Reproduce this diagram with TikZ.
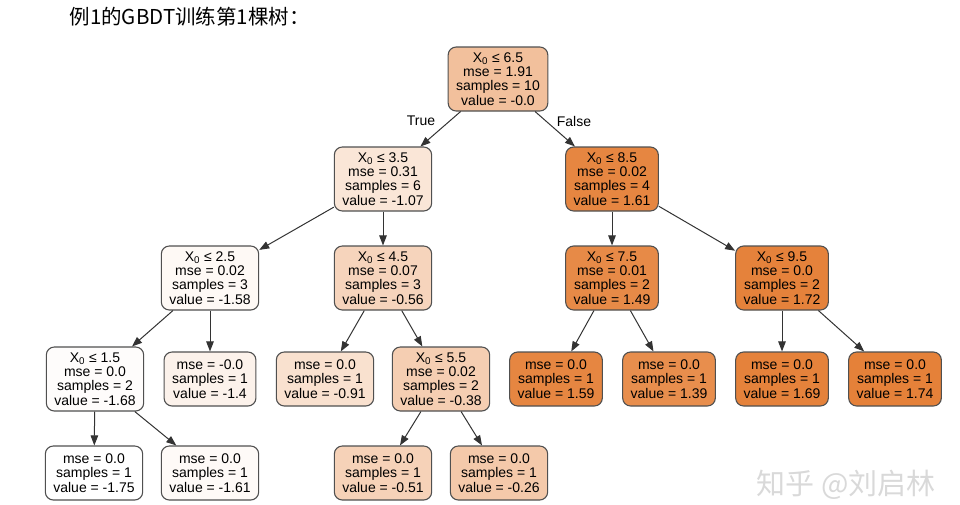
\documentclass[tikz,border=0pt]{standalone}
\usepackage{fontspec}
\setmainfont{Liberation Sans}
\newfontfamily\cjk{Noto Sans CJK SC}
\usetikzlibrary{arrows.meta}
\definecolor{gbdt}{RGB}{229,129,57}
\definecolor{boxline}{RGB}{80,80,80}
\newcommand{\Xle}[1]{X\textsubscript{0} ≤ #1}

\begin{document}
\begin{tikzpicture}[x=1pt, y=-1pt, every node/.style={font=\fontsize{14}{14.3}\selectfont},
	split/.style={draw=boxline, line width=1.1pt, rounded corners=8pt, fill=gbdt!#1!white, align=center, inner xsep=8pt, inner ysep=0pt, minimum height=64pt},
	leaf/.style={split=#1, minimum height=54pt},
	edge/.style={draw=black!80, line width=1pt, -{Triangle[length=10pt,width=7.5pt]}}]
\useasboundingbox (0,0) rectangle (960,504);
\node[anchor=west, font=\cjk\fontsize{20.5}{22}\selectfont] (title) at (66,17) {例1的GBDT训练第1棵树：};
\node[split=50] (n0) at (498,79) {\Xle{6.5}\\mse = 1.91\\samples = 10\\value = -0.0};
\node[split=20] (n1) at (383,179) {\Xle{3.5}\\mse = 0.31\\samples = 6\\value = -1.07};
\node[split=96] (n2) at (612,179) {\Xle{8.5}\\mse = 0.02\\samples = 4\\value = 1.61};
\node[split=5] (n3) at (210,278) {\Xle{2.5}\\mse = 0.02\\samples = 3\\value = -1.58};
\node[split=34] (n4) at (383,278) {\Xle{4.5}\\mse = 0.07\\samples = 3\\value = -0.56};
\node[split=93] (n5) at (612,278) {\Xle{7.5}\\mse = 0.01\\samples = 2\\value = 1.49};
\node[split=99] (n6) at (782,278) {\Xle{9.5}\\mse = 0.0\\samples = 2\\value = 1.72};
\node[split=2] (n7) at (95,379) {\Xle{1.5}\\mse = 0.0\\samples = 2\\value = -1.68};
\node[leaf=10] (n8) at (210,379) {mse = -0.0\\samples = 1\\value = -1.4};
\node[leaf=24] (n9) at (325,379) {mse = 0.0\\samples = 1\\value = -0.91};
\node[split=39] (n10) at (441,379) {\Xle{5.5}\\mse = 0.02\\samples = 2\\value = -0.38};
\node[leaf=96] (n11) at (556,379) {mse = 0.0\\samples = 1\\value = 1.59};
\node[leaf=90] (n12) at (669,379) {mse = 0.0\\samples = 1\\value = 1.39};
\node[leaf=99] (n13) at (782,379) {mse = 0.0\\samples = 1\\value = 1.69};
\node[leaf=100] (n14) at (895,379) {mse = 0.0\\samples = 1\\value = 1.74};
\node[leaf=0] (n15) at (94,473) {mse = 0.0\\samples = 1\\value = -1.75};
\node[leaf=4] (n16) at (210,473) {mse = 0.0\\samples = 1\\value = -1.61};
\node[leaf=36] (n17) at (383,473) {mse = 0.0\\samples = 1\\value = -0.51};
\node[leaf=43] (n18) at (499,473) {mse = 0.0\\samples = 1\\value = -0.26};
\foreach \a/\b in {n0/n1,n0/n2,n1/n3,n1/n4,n2/n5,n2/n6,n3/n7,n3/n8,n4/n9,n4/n10,n5/n11,n5/n12,n6/n13,n6/n14,n7/n15,n7/n16,n10/n17,n10/n18}
	\draw[edge] (\a) -- (\b);
\node (true) at (421,121) {True};
\node (false) at (574,121) {False};
% watermark
\node[text=black!15, font=\cjk\fontsize{29}{30}\selectfont] (wm) at (846,485) {知乎 @刘启林};
\end{tikzpicture}
\end{document}
